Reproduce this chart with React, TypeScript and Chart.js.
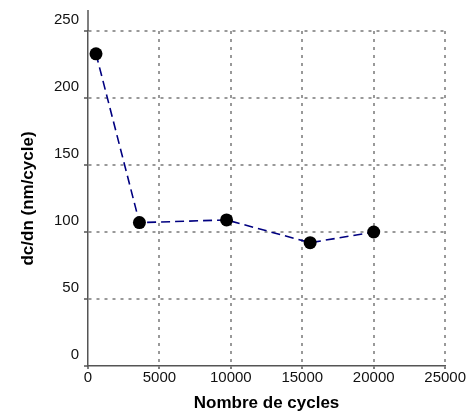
import React, { useEffect, useRef } from "react";
import { Chart, registerables } from "chart.js";

Chart.register(...registerables);

const cycles = [560, 3600, 9700, 15550, 20000];
const dcdn = [233, 107, 109, 92, 100];
const xTicks = [0, 5000, 10000, 15000, 20000, 25000];
const yTicks = [0, 50, 100, 150, 200, 250];
const xTitle = "Nombre de cycles";
const yTitle = "dc/dn (nm/cycle)";

const FONT = "'Liberation Sans', Arial, sans-serif";

const axisExtend = {
  id: "axisExtend",
  afterDraw(chart: any) {
    const { ctx, chartArea } = chart;
    ctx.save();
    ctx.strokeStyle = "#555";
    ctx.lineWidth = 1.5;
    ctx.setLineDash([]);
    ctx.beginPath();
    ctx.moveTo(chartArea.left, chartArea.top - 21);
    ctx.lineTo(chartArea.left, chartArea.top);
    ctx.stroke();
    ctx.restore();
  },
};

export default function App() {
  const ref = useRef<HTMLCanvasElement | null>(null);
  useEffect(() => {
    if (!ref.current) return;
    const chart = new Chart(ref.current, {
      type: "line",
      data: {
        datasets: [
          {
            data: cycles.map((c, i) => ({ x: c, y: dcdn[i] })),
            borderColor: "#000080",
            borderWidth: 1.6,
            borderDash: [9, 5],
            pointRadius: 6.5,
            pointBackgroundColor: "#000",
            pointBorderColor: "#000",
            pointBorderWidth: 0,
            tension: 0,
          },
        ],
      },
      options: {
        animation: false,
        responsive: false,
        maintainAspectRatio: false,
        layout: { padding: { top: 31, right: 20, left: 0, bottom: 0 } },
        plugins: { legend: { display: false }, tooltip: { enabled: false } },
        scales: {
          x: {
            type: "linear",
            min: 0,
            max: 25000,
            afterBuildTicks: (s: any) => {
              s.ticks = xTicks.map((v) => ({ value: v }));
            },
            afterFit: (s: any) => {
              s.height = 46;
            },
            ticks: {
              color: "#111",
              font: { family: FONT, size: 15 },
              padding: 0,
              maxRotation: 0,
              autoSkip: false,
              callback: (v: any) => String(v),
            },
            grid: {
              color: (c: any) => (c.tick && c.tick.value === 0 ? "rgba(0,0,0,0)" : "#999"),
              lineWidth: 2,
              tickColor: "#555",
              tickLength: 3,
              tickWidth: 1.5,
              tickBorderDash: [],
            },
            border: { display: true, color: "#555", width: 1.5, dash: [3, 5] },
            title: {
              display: true,
              text: xTitle,
              color: "#000",
              font: { family: FONT, size: 17, weight: "bold", lineHeight: 1 },
              padding: { top: 0, bottom: 0.5 },
            },
          },
          y: {
            type: "linear",
            min: 0,
            max: 250,
            afterBuildTicks: (s: any) => {
              s.ticks = yTicks.map((v) => ({ value: v }));
            },
            afterFit: (s: any) => {
              s.width = 88;
            },
            ticks: {
              color: "#111",
              font: { family: FONT, size: 15 },
              padding: 5,
              labelOffset: -11,
              callback: (v: any) => String(v),
            },
            grid: {
              color: (c: any) => (c.tick && c.tick.value === 0 ? "rgba(0,0,0,0)" : "#999"),
              lineWidth: 2,
              tickColor: "#555",
              tickLength: 4,
              tickWidth: 1.5,
              tickBorderDash: [],
            },
            border: { display: true, color: "#555", width: 1.5, dash: [3, 5] },
            title: {
              display: true,
              text: yTitle,
              color: "#000",
              font: { family: FONT, size: 17, weight: "bold", lineHeight: 1 },
              padding: { top: 19.5, bottom: 0 },
            },
          },
        },
      },
      plugins: [axisExtend],
    });
    return () => chart.destroy();
  }, []);
  return (
    <div style={{ position: "fixed", left: 0, top: 0, width: 466, height: 412, background: "#fff" }}>
      <canvas ref={ref} width={466} height={412} style={{ width: 466, height: 412 }} />
    </div>
  );
}
